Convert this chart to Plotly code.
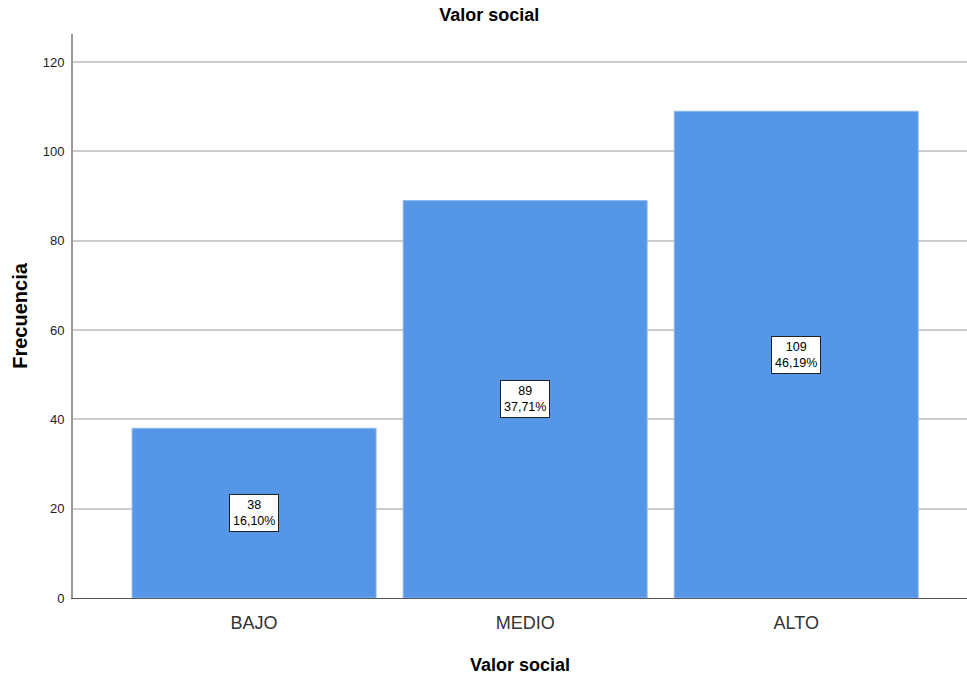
import plotly.graph_objects as go

categories = ["BAJO", "MEDIO", "ALTO"]
counts = [38, 89, 109]
y_ticks = [0, 20, 40, 60, 80, 100, 120]

total = sum(counts)
pct_labels = [f"{c}<br>{c / total * 100:.2f}%".replace(".", ",") for c in counts]

FONT = "Arial, Liberation Sans, sans-serif"

fig = go.Figure()
fig.add_trace(go.Bar(
    x=[0, 1, 2],
    y=counts,
    width=0.9,
    marker=dict(color="#5596e6", line=dict(color="#8fb8ee", width=1)),
    hoverinfo="skip",
))

for i, (c, lab) in enumerate(zip(counts, pct_labels)):
    fig.add_annotation(
        x=i, y=c / 2, text=lab, showarrow=False,
        font=dict(family=FONT, size=12.5, color="#000000"),
        bgcolor="#ffffff", bordercolor="#222222", borderwidth=1, borderpad=3,
        align="center",
    )

fig.update_layout(
    width=967, height=679,
    margin=dict(l=73, r=0, t=34, b=81),
    paper_bgcolor="#ffffff", plot_bgcolor="#ffffff",
    showlegend=False,
    title=dict(text="<b>Valor social</b>", x=0.506, xref="container", xanchor="center",
               y=1 - 15 / 679, yref="container", yanchor="middle",
               font=dict(family=FONT, size=18, color="#000000")),
    font=dict(family=FONT),
)

fig.update_xaxes(
    range=[-0.668, 2.63],
    tickmode="array", tickvals=[0, 1, 2], ticktext=categories,
    tickfont=dict(family=FONT, size=18, color="#333333"),
    ticklabelstandoff=8,
    showgrid=False, zeroline=False,
    showline=True, linecolor="#555555", linewidth=1,
    ticks="", ticklen=0,
    title=dict(text="<b>Valor social</b>", font=dict(family=FONT, size=18, color="#000000"), standoff=26),
)
fig.update_yaxes(
    range=[0, 126.3],
    tickmode="array", tickvals=y_ticks,
    tickfont=dict(family=FONT, size=13, color="#222222"),
    ticklabelstandoff=4,
    showgrid=True, gridcolor="#cccccc", gridwidth=2,
    zeroline=False,
    showline=True, linecolor="#999999", linewidth=2,
    ticks="", ticklen=0,
    title=dict(text="<b>Frecuencia</b>", font=dict(family=FONT, size=20, color="#000000"), standoff=10),
)

fig.write_html("out.html")
